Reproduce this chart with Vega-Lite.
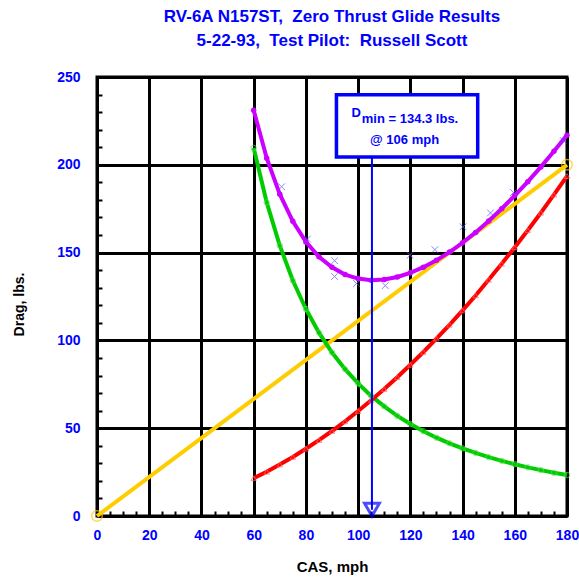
{
  "$schema": "https://vega.github.io/schema/vega-lite/v6.json",
  "autosize": "none",
  "width": 470,
  "height": 439,
  "padding": {"left": 97, "top": 77, "right": 12, "bottom": 65},
  "background": "white",
  "config": {
    "view": {"stroke": "black", "strokeWidth": 3},
    "font": "Liberation Sans"
  },
  "title": {
    "text": ["RV-6A N157ST,\u00a0 Zero Thrust Glide Results", "5-22-93,\u00a0 Test Pilot:\u00a0 Russell Scott"],
    "color": "#0000FF",
    "font": "Liberation Sans",
    "fontWeight": "bold",
    "fontSize": 17,
    "lineHeight": 24,
    "anchor": "middle",
    "offset": 20
  },
  "datasets": {
    "induced": [
      {"cas": 60, "drag": 209.6}, {"cas": 65, "drag": 178.6}, {"cas": 70, "drag": 154.0}, {"cas": 75, "drag": 134.1},
      {"cas": 80, "drag": 117.9}, {"cas": 85, "drag": 104.4}, {"cas": 90, "drag": 93.1}, {"cas": 95, "drag": 83.6},
      {"cas": 100, "drag": 75.5}, {"cas": 105, "drag": 68.4}, {"cas": 110, "drag": 62.4}, {"cas": 115, "drag": 57.0},
      {"cas": 120, "drag": 52.4}, {"cas": 125, "drag": 48.3}, {"cas": 130, "drag": 44.6}, {"cas": 135, "drag": 41.4},
      {"cas": 140, "drag": 38.5}, {"cas": 145, "drag": 35.9}, {"cas": 150, "drag": 33.5}, {"cas": 155, "drag": 31.4},
      {"cas": 160, "drag": 29.5}, {"cas": 165, "drag": 27.7}, {"cas": 170, "drag": 26.1}, {"cas": 175, "drag": 24.6},
      {"cas": 180, "drag": 23.3}
    ],
    "parasite": [
      {"cas": 60, "drag": 21.5}, {"cas": 65, "drag": 25.2}, {"cas": 70, "drag": 29.3}, {"cas": 75, "drag": 33.6},
      {"cas": 80, "drag": 38.3}, {"cas": 85, "drag": 43.2}, {"cas": 90, "drag": 48.4}, {"cas": 95, "drag": 53.9},
      {"cas": 100, "drag": 59.8}, {"cas": 105, "drag": 65.9}, {"cas": 110, "drag": 72.3}, {"cas": 115, "drag": 79.0},
      {"cas": 120, "drag": 86.1}, {"cas": 125, "drag": 93.4}, {"cas": 130, "drag": 101.0}, {"cas": 135, "drag": 108.9},
      {"cas": 140, "drag": 117.1}, {"cas": 145, "drag": 125.6}, {"cas": 150, "drag": 134.5}, {"cas": 155, "drag": 143.6},
      {"cas": 160, "drag": 153.0}, {"cas": 165, "drag": 162.7}, {"cas": 170, "drag": 172.7}, {"cas": 175, "drag": 183.0},
      {"cas": 180, "drag": 193.6}
    ],
    "total": [
      {"cas": 60, "drag": 231.1}, {"cas": 65, "drag": 203.8}, {"cas": 70, "drag": 183.3}, {"cas": 75, "drag": 167.8},
      {"cas": 80, "drag": 156.1}, {"cas": 85, "drag": 147.6}, {"cas": 90, "drag": 141.6}, {"cas": 95, "drag": 137.5},
      {"cas": 100, "drag": 135.2}, {"cas": 105, "drag": 134.3}, {"cas": 110, "drag": 134.7}, {"cas": 115, "drag": 136.1},
      {"cas": 120, "drag": 138.5}, {"cas": 125, "drag": 141.7}, {"cas": 130, "drag": 145.6}, {"cas": 135, "drag": 150.3},
      {"cas": 140, "drag": 155.6}, {"cas": 145, "drag": 161.5}, {"cas": 150, "drag": 168.0}, {"cas": 155, "drag": 175.0},
      {"cas": 160, "drag": 182.5}, {"cas": 165, "drag": 190.4}, {"cas": 170, "drag": 198.8}, {"cas": 175, "drag": 207.7},
      {"cas": 180, "drag": 216.9}
    ],
    "tangent": [
      {"cas": 0, "drag": 0},
      {"cas": 180, "drag": 200}
    ],
    "raw": [
      {"cas": 70.7, "drag": 187.5},
      {"cas": 80.6, "drag": 157.7},
      {"cas": 91.0, "drag": 145.4},
      {"cas": 91.0, "drag": 136.4},
      {"cas": 99.4, "drag": 132.4},
      {"cas": 110.4, "drag": 131.2},
      {"cas": 119.9, "drag": 148.5},
      {"cas": 129.4, "drag": 151.7},
      {"cas": 140.2, "drag": 164.7},
      {"cas": 150.7, "drag": 172.6},
      {"cas": 159.5, "drag": 184.2},
      {"cas": 178.5, "drag": 213.9}
    ],
    "box": [{"cas": 91.7, "cas2": 145.8, "drag": 204.4, "drag2": 239.9}],
    "pointer": [{"cas": 105.3, "drag": 3.6, "drag2": 204.4}],
    "lblD": [{"t": "D", "cas": 101.1, "drag": 227.4}],
    "lblMin": [{"t": "min = 134.3 lbs.", "cas": 101.4, "drag": 223.8}],
    "lblAt": [{"t": "@ 106 mph", "cas": 117.8, "drag": 212.0}]
  },
  "encoding": {
    "x": {
      "field": "cas",
      "type": "quantitative",
      "title": "CAS, mph",
      "scale": {"domain": [0, 180], "nice": false, "zero": false},
      "axis": {
        "values": [0,5,10,15,20,25,30,35,40,45,50,55,60,65,70,75,80,85,90,95,100,105,110,115,120,125,130,135,140,145,150,155,160,165,170,175,180],
        "labelExpr": "datum.value % 20 === 0 ? datum.label : ''",
        "labelOverlap": false,
        "labelFlush": false,
        "grid": true,
        "gridColor": "black",
        "gridWidth": 3,
        "gridOpacity": {"condition": {"test": "datum.value % 20 === 0", "value": 1}, "value": 0},
        "domain": false,
        "ticks": true,
        "tickColor": "black",
        "tickWidth": 2,
        "tickSize": -5,
        "labelColor": "#0000FF",
        "labelFont": "Liberation Sans",
        "labelFontWeight": "bold",
        "labelFontSize": 14,
        "labelPadding": 17,
        "titleFont": "Liberation Sans",
        "titleFontWeight": "bold",
        "titleFontSize": 15,
        "titleColor": "black",
        "titlePadding": 17
      }
    },
    "y": {
      "field": "drag",
      "type": "quantitative",
      "title": "Drag, lbs.",
      "scale": {"domain": [0, 250], "nice": false, "zero": false},
      "axis": {
        "values": [0,10,20,30,40,50,60,70,80,90,100,110,120,130,140,150,160,170,180,190,200,210,220,230,240,250],
        "labelExpr": "datum.value % 50 === 0 ? datum.label : ''",
        "labelOverlap": false,
        "labelFlush": false,
        "grid": true,
        "gridColor": "black",
        "gridWidth": 3,
        "gridOpacity": {"condition": {"test": "datum.value % 50 === 0", "value": 1}, "value": 0},
        "domain": false,
        "ticks": true,
        "tickColor": "black",
        "tickWidth": 2,
        "tickSize": -5,
        "labelColor": "#0000FF",
        "labelFont": "Liberation Sans",
        "labelFontWeight": "bold",
        "labelFontSize": 14,
        "labelPadding": 22,
        "titleFont": "Liberation Sans",
        "titleFontWeight": "bold",
        "titleFontSize": 14,
        "titleColor": "black",
        "titlePadding": 30,
        "titleY": 227
      }
    }
  },
  "layer": [
    {
      "data": {"name": "tangent"},
      "mark": {"type": "line", "color": "#FFCC00", "strokeWidth": 4}
    },
    {
      "data": {"name": "induced"},
      "mark": {"type": "line", "color": "#00CC00", "strokeWidth": 4}
    },
    {
      "data": {"name": "parasite"},
      "mark": {"type": "line", "color": "#FF0000", "strokeWidth": 4}
    },
    {
      "data": {"name": "total"},
      "mark": {"type": "line", "color": "#CC00FF", "strokeWidth": 4}
    },
    {
      "data": {"name": "induced"},
      "mark": {"type": "point", "shape": "circle", "filled": false, "stroke": "#55DD55", "strokeWidth": 1, "size": 30}
    },
    {
      "data": {"name": "parasite"},
      "mark": {"type": "point", "shape": "triangle-up", "filled": false, "stroke": "#FF6666", "strokeWidth": 1, "size": 30}
    },
    {
      "data": {"name": "total"},
      "mark": {"type": "point", "shape": "circle", "filled": true, "color": "#CC00FF", "opacity": 1, "size": 30}
    },
    {
      "data": {"name": "tangent"},
      "mark": {"type": "point", "shape": "circle", "filled": false, "stroke": "#FFCC00", "strokeWidth": 1.5, "size": 110}
    },
    {
      "data": {"name": "raw"},
      "mark": {"type": "point", "shape": "M-1,-1L1,1M-1,1L1,-1", "filled": false, "stroke": "#5555FF", "strokeWidth": 1, "size": 45}
    },
    {
      "data": {"name": "pointer"},
      "mark": {"type": "rule", "color": "#0000FF", "strokeWidth": 2},
      "encoding": {"y2": {"field": "drag2"}}
    },
    {
      "data": {"name": "pointer"},
      "mark": {"type": "point", "shape": "triangle-down", "filled": false, "stroke": "#0000FF", "strokeWidth": 3, "size": 220}
    },
    {
      "data": {"name": "box"},
      "mark": {"type": "rect", "fill": "white", "stroke": "#0000FF", "strokeWidth": 3.5},
      "encoding": {"x2": {"field": "cas2"}, "y2": {"field": "drag2"}}
    },
    {
      "data": {"name": "lblD"},
      "mark": {"type": "text", "color": "#0000FF", "font": "Liberation Sans", "fontWeight": "bold", "fontSize": 13, "baseline": "alphabetic", "align": "right"},
      "encoding": {"text": {"field": "t"}}
    },
    {
      "data": {"name": "lblMin"},
      "mark": {"type": "text", "color": "#0000FF", "font": "Liberation Sans", "fontWeight": "bold", "fontSize": 13, "baseline": "alphabetic", "align": "left"},
      "encoding": {"text": {"field": "t"}}
    },
    {
      "data": {"name": "lblAt"},
      "mark": {"type": "text", "color": "#0000FF", "font": "Liberation Sans", "fontWeight": "bold", "fontSize": 13, "baseline": "alphabetic", "align": "center"},
      "encoding": {"text": {"field": "t"}}
    }
  ]
}
